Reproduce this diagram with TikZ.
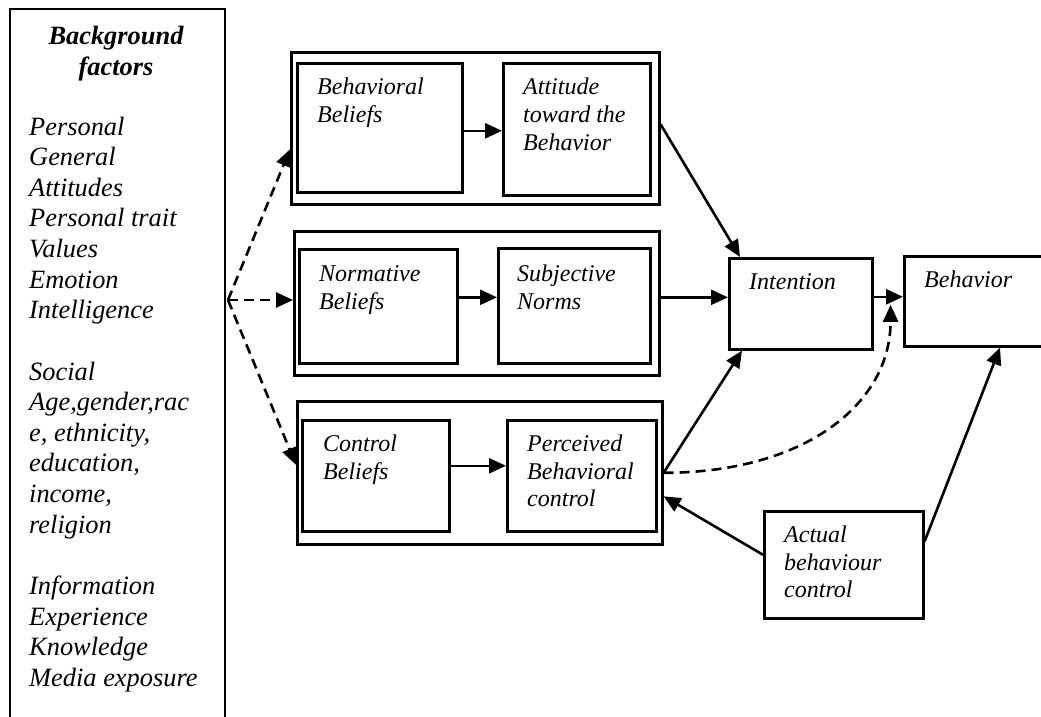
\documentclass[tikz,border=0pt]{standalone}
\usepackage{fontspec}
\setmainfont{Liberation Serif}
\usetikzlibrary{arrows.meta}

\newcommand\txtL{\fontsize{26.4}{30.6}\selectfont\itshape}
\newcommand\txtB{\fontsize{24}{27.5}\selectfont\itshape}

\begin{document}
\begin{tikzpicture}[x=1pt,y=-1pt,
  frame/.style={draw, line width=2.6pt, rectangle, inner sep=0pt, anchor=north west},
  lbl/.style={anchor=base west, inner sep=0pt},
  conn/.style={line width=2.6pt, -{Triangle[length=17pt,width=15pt]}},
  dconn/.style={conn, dash pattern=on 10pt off 6pt},
  box/.code args={#1/#2/#3/#4}{\pgfkeysalso{minimum width={(#3-#1)*1pt}, minimum height={(#4-#2)*1pt}}}
]
\useasboundingbox (0,0) rectangle (1041,717);
\clip (0,0) rectangle (1041,717);

% background factors column (open at the bottom)
\node[frame, line width=2.2pt, box=9/8/224/760] (bg) at (9,8) {};
\node[anchor=base, inner sep=0pt] (bghead) at (116,45)
  {\parbox[t]{200pt}{\centering\txtL\bfseries Background\\ factors}};
\node[lbl] (pers) at (29,135) {\parbox[t]{195pt}{\raggedright\txtL
  Personal\\ General\\ Attitudes\\ Personal trait\\ Values\\ Emotion\\ Intelligence}};
\node[lbl] (soc) at (29,380) {\parbox[t]{195pt}{\raggedright\txtL
  Social\\ Age,gender,rac\\ e, ethnicity,\\ education,\\ income,\\ religion}};
\node[lbl] (info) at (29,594.5) {\parbox[t]{195pt}{\raggedright\txtL
  Information\\ Experience\\ Knowledge\\ Media exposure}};
\coordinate (src) at (228,300);

% attitude group
\node[frame, box=290/51/658/203] (g1) at (290,51) {};
\node[frame, box=296/62/461/191] (bb) at (296,62) {};
\node[frame, box=502/62/649/194] (att) at (502,62) {};
\node[lbl] (bbt) at (317,95) {\parbox[t]{140pt}{\raggedright\txtB Behavioral\\ Beliefs}};
\node[lbl] (attt) at (523,95) {\parbox[t]{125pt}{\raggedright\txtB Attitude\\ toward the\\ Behavior}};

% norms group
\node[frame, box=293/230/658/374] (g2) at (293,230) {};
\node[frame, box=298/248/456/362] (nb) at (298,248) {};
\node[frame, box=497/247/649/362] (sn) at (497,247) {};
\node[lbl] (nbt) at (319,281.5) {\parbox[t]{130pt}{\raggedright\txtB Normative\\ Beliefs}};
\node[lbl] (snt) at (517,281.5) {\parbox[t]{130pt}{\raggedright\txtB Subjective\\ Norms}};

% control group
\node[frame, box=296/400/661/543] (g3) at (296,400) {};
\node[frame, box=301/419/448/530] (cb) at (301,419) {};
\node[frame, box=506/419/655/530] (pbc) at (506,419) {};
\node[lbl] (cbt) at (323,451.5) {\parbox[t]{120pt}{\raggedright\txtB Control\\ Beliefs}};
\node[lbl] (pbct) at (527,451.5) {\parbox[t]{125pt}{\raggedright\txtB Perceived\\ Behavioral\\ control}};

% intention, behaviour, actual control
\node[frame, box=728/257/871/348] (int) at (728,257) {};
\node[lbl] (intt) at (749,289) {\txtB Intention};
\node[frame, box=903/255/1070/345] (beh) at (903,255) {};
\node[lbl] (beht) at (924,287.5) {\txtB Behavior};
\node[frame, box=763/510/922/617] (abc) at (763,510) {};
\node[lbl] (abct) at (784,542.5) {\parbox[t]{130pt}{\raggedright\txtB Actual\\ behaviour\\ control}};

% background factors to belief groups
\draw[dconn] (src) -- ([yshift=-21pt]g1.west);
\draw[dconn] (src) -- (src -| g2.west);
\draw[dconn] (src) -- ([yshift=8pt]g3.west);

% beliefs to constructs
\draw[conn] ([yshift=-3pt]bb.east) -- ([yshift=-3pt]bb.east -| att.west);
\draw[conn] ([yshift=9pt]nb.east) -- ([yshift=9pt]nb.east -| sn.west);
\draw[conn] ([yshift=10pt]cb.east) -- ([yshift=10pt]cb.east -| pbc.west);

% constructs to intention
\draw[conn] ([yshift=4pt]g1.east) -- ([xshift=12pt]int.north west);
\draw[conn] ([yshift=6pt]g2.east) -- ([yshift=6pt]g2.east -| int.west);
\draw[conn] (g3.east) -- ([xshift=14pt]int.south west);

% intention to behaviour
\draw[conn] ([yshift=7pt]int.east) -- ([yshift=7pt]int.east -| beh.west);
\coordinate (pbcin) at ([xshift=17pt,yshift=-1pt]int.east);
\draw[dconn] (g3.east) .. controls +(140,0) and +(0,100) .. (pbcin);

% actual behaviour control
\draw[conn] ([yshift=10pt]abc.west) -- ([yshift=-23.5pt]g3.east);
\draw[conn] ([yshift=23.5pt]abc.east) -- ([xshift=97pt]beh.south west);
\end{tikzpicture}
\end{document}
